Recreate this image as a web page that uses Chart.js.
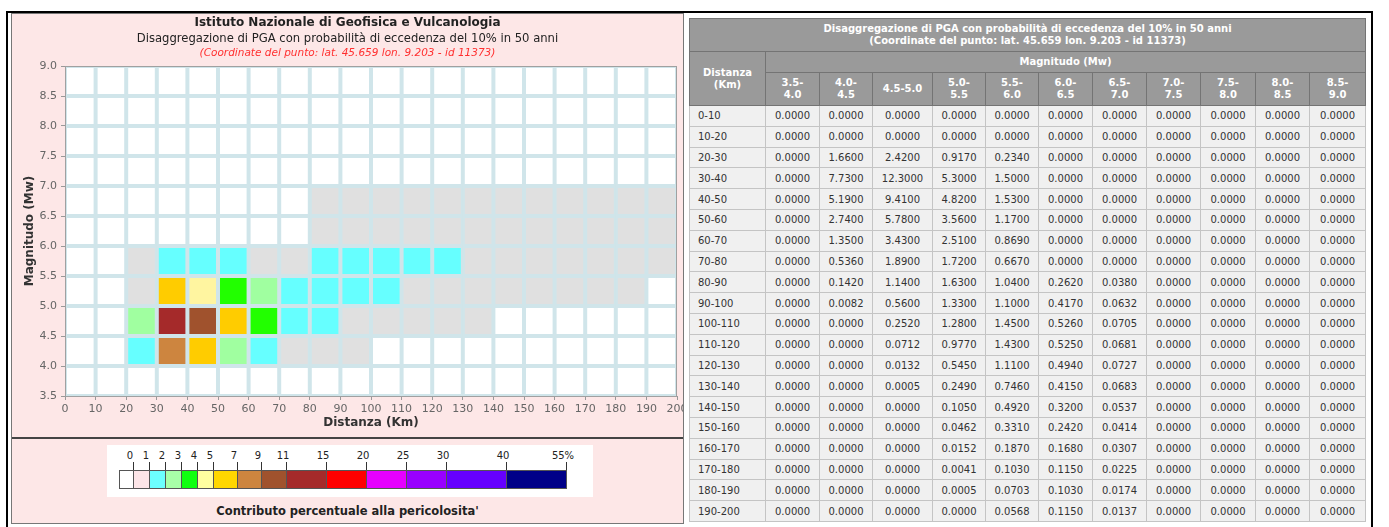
<!DOCTYPE html>
<html>
<head>
<meta charset="utf-8">
<script src="https://cdn.jsdelivr.net/npm/chart.js@4.4.0/dist/chart.umd.min.js"></script>
<style>
body { margin: 0; width: 1389px; height: 527px; overflow: hidden; position: relative; background: #fff; font-family: "DejaVu Sans", sans-serif; }
#frame { position: absolute; left: 6px; top: 11px; width: 1363px; height: 540px; border: 2px solid #000; border-bottom: none; }
#panel { position: absolute; left: 11px; top: 13px; width: 671px; height: 509px; background: #fde7e7; border: 1px solid #777; }
#top { position: absolute; left: 0; top: 0; width: 671px; height: 423px; overflow: hidden; }
#heat { position: absolute; left: 0; top: 0; }
.t { position: absolute; left: 0; width: 671px; text-align: center; white-space: nowrap; }
#t1 { top: 1px; font-size: 12px; font-weight: bold; color: #222; line-height: 15px; }
#t2 { top: 17px; font-size: 11.6px; color: #222; line-height: 14px; }
#t3 { top: 32px; font-size: 10.5px; font-style: italic; color: #ff3030; line-height: 13px; }
#divider { position: absolute; left: 0; top: 423px; width: 671px; height: 0; border-top: 2px solid #444; }
#legbox { position: absolute; left: 95px; top: 431px; width: 486px; height: 52px; background: #fff; }
#legbar { position: absolute; left: 12px; top: 25px; height: 19px; }
.lb { position: absolute; top: 0; height: 17px; border: 1px solid #555; box-sizing: content-box; }
.lt { position: absolute; top: -8px; width: 1px; height: 8px; background: #333; }
.ll { position: absolute; top: -20px; width: 30px; text-align: center; font-size: 10px; color: #222; line-height: 12px; }
#caption { position: absolute; left: 0; top: 490px; width: 671px; text-align: center; font-family: "DejaVu Sans", sans-serif; font-weight: bold; font-size: 11.5px; color: #222; }
#tbl { position: absolute; left: 689px; top: 18px; border-collapse: collapse; table-layout: fixed; width: 676px; font-size: 10px; }
#tbl th { background: #9a9a9a; color: #fff; border: 1px solid #747474; font-weight: bold; line-height: 12px; padding: 0 4px; }
#tbl td { background: #f0f0f0; color: #333; border: 1px solid #c4c4c4; text-align: center; padding: 0; }
#tbl td.d { text-align: left; padding-left: 8px; }
#tbl tbody tr { height: 20.8px; }
</style>
</head>
<body>
<div id="frame"></div>
<div id="panel">
  <div id="top">
    <canvas id="heat" width="700" height="423"></canvas>
    <div class="t" id="t1">Istituto Nazionale di Geofisica e Vulcanologia</div>
    <div class="t" id="t2">Disaggregazione di PGA con probabilità di eccedenza del 10% in 50 anni</div>
    <div class="t" id="t3">(Coordinate del punto: lat. 45.659 lon. 9.203 - id 11373)</div>
  </div>
  <div id="divider"></div>
  <div id="legbox"><div id="legbar"></div></div>
  <div id="caption">Contributo percentuale alla pericolosita'</div>
</div>
<table id="tbl"></table>

<script>
// distance bins (km) and magnitude bins (Mw)
const distLabels = ['0-10', '10-20', '20-30', '30-40', '40-50', '50-60', '60-70', '70-80', '80-90', '90-100',
    '100-110', '110-120', '120-130', '130-140', '140-150', '150-160', '160-170', '170-180', '180-190', '190-200'];
const magLabels = ['3.5-4.0', '4.0-4.5', '4.5-5.0', '5.0-5.5', '5.5-6.0', '6.0-6.5', '6.5-7.0', '7.0-7.5', '7.5-8.0', '8.0-8.5', '8.5-9.0'];

// percent contribution, one array per magnitude bin, ordered by distance bin
const mw35 = [0, 0, 0, 0, 0, 0, 0, 0, 0, 0, 0, 0, 0, 0, 0, 0, 0, 0, 0, 0];
const mw40 = [0, 0, 1.66, 7.73, 5.19, 2.74, 1.35, 0.536, 0.142, 0.0082, 0, 0, 0, 0, 0, 0, 0, 0, 0, 0];
const mw45 = [0, 0, 2.42, 12.3, 9.41, 5.78, 3.43, 1.89, 1.14, 0.56, 0.252, 0.0712, 0.0132, 0.0005, 0, 0, 0, 0, 0, 0];
const mw50 = [0, 0, 0.917, 5.3, 4.82, 3.56, 2.51, 1.72, 1.63, 1.33, 1.28, 0.977, 0.545, 0.249, 0.105, 0.0462, 0.0152, 0.0041, 0.0005, 0];
const mw55 = [0, 0, 0.234, 1.5, 1.53, 1.17, 0.869, 0.667, 1.04, 1.1, 1.45, 1.43, 1.11, 0.746, 0.492, 0.331, 0.187, 0.103, 0.0703, 0.0568];
const mw60 = [0, 0, 0, 0, 0, 0, 0, 0, 0.262, 0.417, 0.526, 0.525, 0.494, 0.415, 0.32, 0.242, 0.168, 0.115, 0.103, 0.115];
const mw65 = [0, 0, 0, 0, 0, 0, 0, 0, 0.038, 0.0632, 0.0705, 0.0681, 0.0727, 0.0683, 0.0537, 0.0414, 0.0307, 0.0225, 0.0174, 0.0137];
const mw70 = [0, 0, 0, 0, 0, 0, 0, 0, 0, 0, 0, 0, 0, 0, 0, 0, 0, 0, 0, 0];
const mw75 = [0, 0, 0, 0, 0, 0, 0, 0, 0, 0, 0, 0, 0, 0, 0, 0, 0, 0, 0, 0];
const mw80 = [0, 0, 0, 0, 0, 0, 0, 0, 0, 0, 0, 0, 0, 0, 0, 0, 0, 0, 0, 0];
const mw85 = [0, 0, 0, 0, 0, 0, 0, 0, 0, 0, 0, 0, 0, 0, 0, 0, 0, 0, 0, 0];
const magSeries = [mw35, mw40, mw45, mw50, mw55, mw60, mw65, mw70, mw75, mw80, mw85];

// colour classes (percent)
const binEdges = [0, 1, 2, 3, 4, 5, 7, 9, 11, 15, 20, 25, 30, 40, 55];
const cellColors = ['#e0e0e0', '#66ffff', '#a0ffa0', '#22ff00', '#fff5a0', '#ffcc00', '#cd853f', '#a0522d',
    '#a52a2a', '#ff0000', '#e600ff', '#9900ff', '#6600ff', '#000088'];
const legendColors = ['#ffffff', '#fde5e8', '#6cffff', '#a8ffa8', '#10ff10', '#ffffa0', '#ffd700', '#cd853f',
    '#a0522d', '#a52a2a', '#ff0000', '#e600ff', '#9900ff', '#6600ff', '#000088'];
const legendWidths = [14, 16, 16, 16, 16, 16, 24, 24, 25, 40, 40, 40, 40, 60, 60];

const gridColor = '#d0e5ea';

function colorFor(v) {
    if (v <= 0) return '#ffffff';
    for (let i = 1; i < binEdges.length; i++) {
        if (v < binEdges[i]) return cellColors[i - 1];
    }
    return cellColors[cellColors.length - 1];
}
const range = s => s.split('-').map(Number);

// heatmap: one floating-bar dataset per magnitude bin
const datasets = magSeries.map((vals, j) => {
    const [mlo, mhi] = range(magLabels[j]);
    return {
        label: magLabels[j],
        data: distLabels.map(d => {
            const [lo, hi] = range(d);
            return { x: (lo + hi) / 2, y: [mlo, mhi] };
        }),
        backgroundColor: vals.map(colorFor),
        borderColor: gridColor,
        borderWidth: 2,
        borderSkipped: false,
        inflateAmount: 0,
        grouped: false,
        barPercentage: 1,
        categoryPercentage: 1
    };
});

const plotBg = {
    id: 'plotBg',
    beforeDatasetsDraw(chart) {
        const a = chart.chartArea, c = chart.ctx;
        c.save();
        c.fillStyle = gridColor;
        c.fillRect(a.left, a.top, a.right - a.left, a.bottom - a.top);
        c.restore();
    },
    afterDatasetsDraw(chart) {
        const a = chart.chartArea, c = chart.ctx;
        c.save();
        c.strokeStyle = '#a0a0a0';
        c.lineWidth = 1;
        c.strokeRect(a.left + 0.5, a.top + 0.5, a.right - a.left - 1, a.bottom - a.top);
        c.restore();
    }
};

const tickFont = { family: 'DejaVu Sans', size: 11 };
const titleFont = { family: 'DejaVu Sans', size: 12, weight: 'bold' };

new Chart(document.getElementById('heat').getContext('2d'), {
    type: 'bar',
    data: { datasets: datasets },
    options: {
        responsive: false,
        animation: false,
        devicePixelRatio: 1,
        layout: { padding: { top: 52, right: 35, bottom: 0, left: 0 } },
        plugins: { legend: { display: false }, tooltip: { enabled: false } },
        scales: {
            x: {
                type: 'linear', min: 0, max: 200, offset: false,
                grid: { offset: false, drawOnChartArea: false, drawTicks: true, tickLength: 4, color: '#999' },
                border: { display: true, color: '#999' },
                ticks: { stepSize: 10, autoSkip: false, maxRotation: 0, padding: 3, color: '#666', font: tickFont },
                title: { display: true, text: 'Distanza (Km)', color: '#333', font: titleFont, padding: { top: 0, bottom: 7 } },
                afterFit(scale) { scale.height = 41; }
            },
            y: {
                type: 'linear', min: 3.5, max: 9.0,
                grid: { drawOnChartArea: false, drawTicks: true, tickLength: 4, color: '#999' },
                border: { display: true, color: '#999' },
                ticks: { stepSize: 0.5, padding: 4, color: '#666', font: tickFont, callback: v => v.toFixed(1) },
                title: { display: true, text: 'Magnitudo (Mw)', color: '#333', font: titleFont, padding: { top: 11, bottom: 0 } },
                afterFit(scale) { scale.width = 53; }
            }
        }
    },
    plugins: [plotBg]
});

// colour legend
const legbar = document.getElementById('legbar');
let px = 0;
legendColors.forEach((col, i) => {
    const b = document.createElement('div');
    b.className = 'lb';
    b.style.left = px + 'px';
    b.style.width = (legendWidths[i] - 1) + 'px';
    b.style.background = col;
    legbar.appendChild(b);
    px += legendWidths[i];
    const t = document.createElement('div');
    t.className = 'lt';
    t.style.left = px + 'px';
    legbar.appendChild(t);
    const l = document.createElement('div');
    l.className = 'll';
    l.style.left = (px - 18) + 'px';
    l.textContent = binEdges[i] + (i === binEdges.length - 1 ? '%' : '');
    legbar.appendChild(l);
});

// data table
const colWidths = [76, 54, 53, 60, 53, 53, 54, 54, 54, 55, 54, 56];
let html = '<colgroup>' + colWidths.map(w => '<col style="width:' + w + 'px">').join('') + '</colgroup>';
html += '<thead><tr style="height:33px"><th colspan="12">Disaggregazione di PGA con probabilità di eccedenza del 10% in 50 anni<br>(Coordinate del punto: lat. 45.659 lon. 9.203 - id 11373)</th></tr>';
html += '<tr style="height:21px"><th rowspan="2">Distanza<br>(Km)</th><th colspan="11">Magnitudo (Mw)</th></tr>';
// narrow columns break the magnitude range after the hyphen
html += '<tr style="height:33px">' + magLabels.map((m, j) =>
    '<th>' + (colWidths[j + 1] < 58 ? m.replace('-', '-<br>') : m) + '</th>').join('') + '</tr></thead><tbody>';
distLabels.forEach((d, i) => {
    html += '<tr><td class="d">' + d + '</td>' + magSeries.map(s => '<td>' + s[i].toFixed(4) + '</td>').join('') + '</tr>';
});
html += '</tbody>';
document.getElementById('tbl').innerHTML = html;
</script>
</body>
</html>
